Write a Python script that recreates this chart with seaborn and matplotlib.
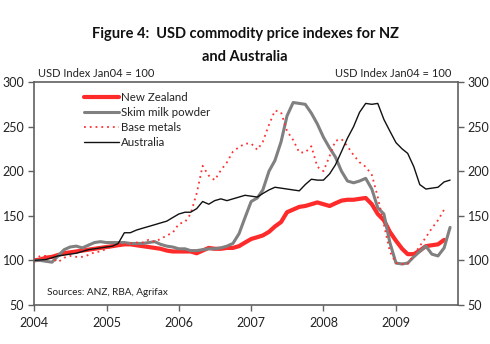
import matplotlib
matplotlib.use("Agg")
import matplotlib.pyplot as plt
import matplotlib.dates as mdates
import numpy as np
import pandas as pd
import seaborn as sns

# Monthly USD indexes, Jan 2004 = 100
new_zealand = [100, 101, 103, 104, 106, 108, 109, 110, 111, 112, 113, 114,
               115, 116, 117, 118, 118, 117, 116, 115, 114, 113, 111, 110,
               110, 110, 110, 108, 111, 114, 113, 113, 114, 114, 116, 120,
               124, 126, 128, 132, 138, 143, 154, 157, 160, 161, 163, 165,
               163, 161, 164, 167, 168, 168, 169, 170, 163, 152, 145, 132,
               122, 113, 107, 107, 111, 116, 117, 118, 123]
skim_milk = [100, 100, 99, 98, 105, 112, 115, 116, 114, 117, 120, 121,
             120, 120, 120, 120, 119, 119, 119, 120, 121, 118, 116, 115,
             113, 113, 111, 111, 112, 113, 113, 114, 116, 119, 130, 148,
             166, 170, 179, 200, 212, 233, 262, 277, 276, 275, 265, 253,
             238, 226, 216, 200, 189, 187, 189, 192, 180, 159, 152, 120,
             97, 96, 97, 104, 110, 116, 107, 105, 114, 137]
base_metals = [100, 105, 105, 103, 98, 103, 105, 104, 104, 106, 109, 110,
               113, 116, 119, 118, 119, 120, 120, 123, 121, 124, 128, 131,
               141, 143, 152, 175, 206, 195, 190, 201, 210, 222, 227, 231,
               231, 224, 233, 252, 268, 266, 245, 235, 221, 221, 228, 205,
               200, 217, 234, 236, 228, 218, 210, 205, 196, 171, 140, 110,
               97, 96, 96, 106, 116, 126, 136, 145, 157]
australia = [100, 100.5, 101, 103, 105, 106, 107, 108, 110, 112, 113, 114,
             115, 116, 119, 131, 131, 134, 136, 138, 140, 142, 144, 148,
             152, 154, 154, 158, 166, 163, 167, 169, 167, 169, 171, 173,
             172, 171, 175, 179, 182, 181, 180, 179, 178, 185, 191, 190,
             190, 197, 207, 222, 237, 250, 266, 276, 275, 276, 258, 245,
             232, 225, 220, 205, 185, 180, 181, 182, 188, 190]

series_names = ["New Zealand", "Skim milk powder", "Base metals", "Australia"]
series_values = [new_zealand, skim_milk, base_metals, australia]
year_ticks = [2004, 2005, 2006, 2007, 2008, 2009]
y_ticks = [50, 100, 150, 200, 250, 300]

styles = {
    "New Zealand": dict(color="#ff2a2a", linewidth=3.0, linestyle="-"),
    "Skim milk powder": dict(color="#808080", linewidth=2.2, linestyle="-"),
    "Base metals": dict(color="#ff3030", linewidth=1.3, linestyle=(0, (1, 2.2))),
    "Australia": dict(color="#111111", linewidth=1.0, linestyle="-"),
}

sns.set_theme(style="white")
plt.rcParams["font.family"] = ["Lato", "DejaVu Sans"]

fig = plt.figure(figsize=(4.9, 3.44), dpi=100)
ax = fig.add_axes([0.0694, 0.1134, 0.8653, 0.6482])

for name, vals in zip(series_names, series_values):
    df = pd.DataFrame({
        "date": pd.date_range("2004-01-01", periods=len(vals), freq="MS"),
        "index": vals,
    })
    sns.lineplot(data=df, x="date", y="index", ax=ax, label=name, **styles[name])

ax.set_xlim(pd.Timestamp("2004-01-01"), pd.Timestamp("2009-11-10"))
ax.set_ylim(50, 300)
ax.set_xticks([pd.Timestamp(f"{y}-01-01") for y in year_ticks])
ax.xaxis.set_major_formatter(mdates.DateFormatter("%Y"))
ax.set_yticks(y_ticks)
ax.set_xlabel("")
ax.set_ylabel("")

for side in ["left", "right", "top", "bottom"]:
    ax.spines[side].set_visible(True)
    ax.spines[side].set_color("#606060")
    ax.spines[side].set_linewidth(1.2)

ax.tick_params(axis="both", which="major", direction="out", length=4,
               width=1, color="#606060", labelsize=9, labelcolor="#222222",
               pad=3)
ax.tick_params(axis="y", left=True, right=True, labelleft=True, labelright=True)
ax.tick_params(axis="x", bottom=True, pad=5)

leg = ax.legend(loc="upper left", bbox_to_anchor=(0.1, 0.99), frameon=False,
                fontsize=8.3, handlelength=3.0, handletextpad=0.2,
                labelspacing=0.33, borderaxespad=0.3)
for t in leg.get_texts():
    t.set_color("#222222")

ax.text(0.01, 1.012, "USD Index Jan04 = 100", transform=ax.transAxes,
        ha="left", va="bottom", fontsize=8, color="#222222")
ax.text(0.985, 1.012, "USD Index Jan04 = 100", transform=ax.transAxes,
        ha="right", va="bottom", fontsize=8, color="#222222")
ax.text(0.03, 0.035, "Sources: ANZ, RBA, Agrifax", transform=ax.transAxes,
        ha="left", va="bottom", fontsize=7.2, color="#222222")

fig.text(0.5, 0.868, "Figure 4:  USD commodity price indexes for NZ\nand Australia",
         ha="center", va="center", fontsize=10.5, fontweight="bold",
         color="#111111", linespacing=1.75)

fig.savefig("out.png", dpi=100)
